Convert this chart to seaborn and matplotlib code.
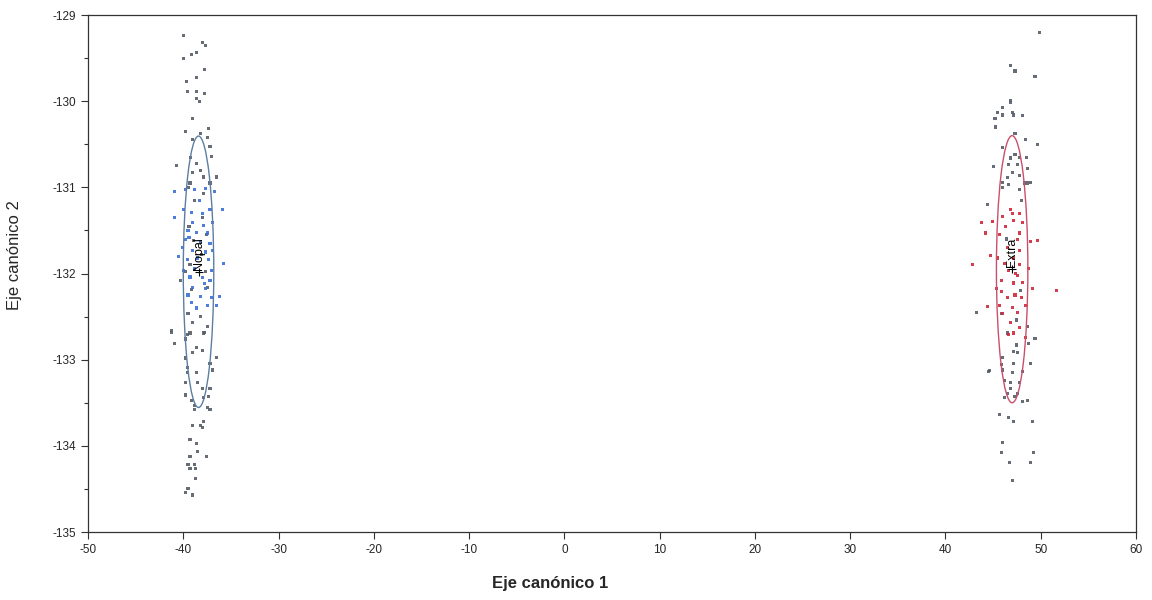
import numpy as np
import pandas as pd
import seaborn as sns
import matplotlib
matplotlib.use("Agg")
import matplotlib.pyplot as plt
from matplotlib.patches import Ellipse

# scores of the individual samples
nopal_gray_x = [-40.0, -38.0, -37.7, -38.6, -39.1, -40.0, -37.8, -39.7, -38.6, -39.6, -38.6, -37.8,
                -38.6, -38.3, -39.0, -39.8, -37.4, -38.2, -37.5, -39.0, -37.2, -37.0, -39.2, -40.7,
                -38.6, -38.2, -39.0, -37.9, -36.5, -39.3, -37.2, -39.5, -37.9, -38.8, -38.0, -39.4,
                -37.6, -38.9, -38.1, -39.3, -37.7, -40.3, -39.1, -37.5, -39.5, -38.2, -39.0, -37.5,
                -39.3, -37.9, -41.2, -39.8, -41.2, -39.6, -37.8, -40.9, -39.8, -38.6, -38.0, -39.0,
                -36.5, -39.8, -37.2, -39.6, -36.9, -39.6, -38.6, -39.8, -38.5, -38.0, -37.2, -39.8,
                -39.1, -37.9, -37.4, -38.8, -37.5, -37.2, -38.8, -37.9, -39.0, -38.2, -38.0, -39.3,
                -38.6, -38.5, -39.3, -37.6, -39.5, -38.8, -39.3, -38.7, -38.7, -39.8, -39.5, -39.0]
nopal_gray_y = [-129.24, -129.32, -129.35, -129.44, -129.46, -129.50, -129.63, -129.77, -129.73, -129.89,
                -129.89, -129.91, -129.97, -130.00, -130.20, -130.35, -130.32, -130.38, -130.42, -130.44,
                -130.53, -130.64, -130.65, -130.75, -130.72, -130.80, -130.83, -130.88, -130.88, -130.95,
                -130.95, -131.00, -131.07, -131.15, -131.35, -131.45, -131.55, -131.62, -131.78, -131.90,
                -131.98, -132.08, -132.19, -132.16, -132.46, -132.50, -132.57, -132.62, -132.69, -132.69,
                -132.66, -131.98, -132.68, -132.71, -132.68, -132.81, -132.76, -132.86, -132.89, -132.92,
                -132.97, -132.98, -133.04, -133.09, -133.12, -133.15, -133.15, -133.26, -133.27, -133.33,
                -133.33, -133.41, -133.47, -133.44, -133.43, -133.53, -133.55, -133.58, -133.58, -133.72,
                -133.76, -133.76, -133.79, -133.93, -133.97, -134.07, -134.12, -134.12, -134.22, -134.22,
                -134.26, -134.26, -134.38, -134.54, -134.50, -134.57]

nopal_x = [-40.9, -39.8, -38.8, -37.7, -36.7, -40.0, -39.1, -38.0, -37.2, -35.9, -39.0, -37.9,
           -36.9, -39.5, -38.6, -37.5, -39.8, -38.2, -37.2, -40.1, -39.0, -37.7, -36.9, -39.6,
           -38.5, -37.4, -35.8, -40.0, -38.8, -37.0, -39.3, -38.0, -37.2, -39.0, -37.7, -39.5,
           -38.2, -37.0, -39.1, -37.5, -36.5, -38.6, -40.9, -40.5, -36.2, -38.3, -39.4, -37.8]
nopal_y = [-131.05, -131.03, -131.03, -131.01, -131.05, -131.26, -131.29, -131.30, -131.26, -131.26,
           -131.41, -131.44, -131.41, -131.50, -131.52, -131.53, -131.61, -131.63, -131.65, -131.70,
           -131.73, -131.75, -131.73, -131.84, -131.82, -131.84, -131.88, -131.96, -131.94, -131.96,
           -132.04, -132.05, -132.08, -132.16, -132.17, -132.25, -132.27, -132.28, -132.34, -132.37,
           -132.37, -132.40, -131.35, -131.80, -132.27, -131.15, -131.58, -132.12]

extra_gray_x = [49.9, 46.8, 47.3, 49.4, 46.8, 46.8, 46.0, 45.5, 47.0, 45.2, 46.0, 47.1,
                48.1, 45.3, 47.3, 48.4, 49.7, 46.0, 47.3, 46.8, 47.8, 48.5, 45.0, 46.6,
                47.6, 48.6, 47.0, 47.8, 46.5, 46.0, 48.6, 46.6, 48.9, 44.4, 46.0, 47.8,
                48.3, 48.0, 45.9, 48.6, 47.5, 46.5, 43.3, 49.4, 48.7, 47.5, 47.1, 47.6,
                46.0, 45.9, 47.1, 48.9, 44.5, 46.0, 48.1, 47.0, 46.2, 47.8, 46.8, 46.8,
                46.5, 47.6, 46.2, 47.3, 48.1, 48.6, 45.7, 46.6, 47.1, 49.1, 46.0, 45.9,
                49.2, 46.7, 48.9, 47.0, 44.6, 46.4, 47.9]
extra_gray_y = [-129.20, -129.59, -129.65, -129.71, -129.99, -130.02, -130.07, -130.13, -130.13, -130.20,
                -130.16, -130.16, -130.17, -130.30, -130.37, -130.45, -130.50, -130.54, -130.62, -130.66,
                -130.65, -130.65, -130.76, -130.74, -130.74, -130.78, -130.83, -130.86, -130.89, -130.94,
                -130.95, -130.97, -130.94, -131.20, -131.00, -131.03, -130.95, -131.15, -132.46, -132.62,
                -132.54, -132.69, -132.45, -132.75, -132.81, -132.83, -132.91, -132.92, -132.97, -133.06,
                -133.04, -133.04, -133.14, -133.12, -133.14, -133.15, -133.24, -133.26, -133.26, -133.33,
                -133.39, -133.39, -133.44, -133.43, -133.49, -133.47, -133.64, -133.67, -133.72, -133.72,
                -133.96, -134.08, -134.08, -134.19, -134.19, -134.40, -133.13, -131.60, -132.20]

extra_x = [46.8, 47.0, 47.8, 46.0, 43.8, 44.9, 47.1, 48.1, 44.2, 45.7, 47.8, 47.6,
           48.9, 46.5, 47.8, 44.7, 45.5, 47.1, 42.8, 46.2, 47.8, 48.7, 46.6, 47.6,
           45.9, 48.1, 47.1, 45.4, 49.1, 51.7, 45.9, 47.3, 48.0, 46.5, 44.4, 45.7,
           47.0, 48.4, 46.0, 47.6, 46.8, 47.8, 47.1, 48.4, 46.6, 49.7, 46.3, 47.4]
extra_y = [-131.26, -131.30, -131.30, -131.34, -131.41, -131.40, -131.38, -131.41, -131.53, -131.55,
           -131.53, -131.61, -131.63, -131.70, -131.73, -131.79, -131.82, -131.82, -131.90, -131.88,
           -131.90, -131.94, -131.96, -132.02, -132.08, -132.10, -132.11, -132.17, -132.17, -132.20,
           -132.21, -132.25, -132.28, -132.28, -132.38, -132.37, -132.39, -132.37, -132.46, -132.45,
           -132.57, -132.63, -132.69, -132.74, -132.71, -131.62, -131.45, -132.00]

# group means and confidence ellipse sizes
groups = ["Nopal", "Extra"]
center_x = [-38.4, 47.0]
center_y = [-131.98, -131.95]
ellipse_w = [3.2, 3.3]
ellipse_h = [3.15, 3.1]
ellipse_colors = ["#5d7ea3", "#c9506b"]

df = pd.concat([
    pd.DataFrame({"x": nopal_gray_x, "y": nopal_gray_y, "grupo": "obs"}),
    pd.DataFrame({"x": extra_gray_x, "y": extra_gray_y, "grupo": "obs"}),
    pd.DataFrame({"x": nopal_x, "y": nopal_y, "grupo": "Nopal"}),
    pd.DataFrame({"x": extra_x, "y": extra_y, "grupo": "Extra"}),
], ignore_index=True)

sns.set_style("ticks")
plt.rcParams['font.family'] = ['Liberation Sans', 'DejaVu Sans']
plt.rcParams['axes.unicode_minus'] = False

fig = plt.figure(figsize=(11.52, 6), dpi=100)
ax = fig.add_axes([0.0764, 0.1133, 0.9097, 0.8617])

palette = {"obs": "#555d68", "Nopal": "#3b6fd6", "Extra": "#d0283a"}
sns.scatterplot(data=df, x="x", y="y", hue="grupo", palette=palette, marker="s",
                s=5, linewidth=0, alpha=0.9, legend=False, ax=ax, zorder=3)

for i, g in enumerate(groups):
    ax.add_patch(Ellipse((center_x[i], center_y[i]), ellipse_w[i], ellipse_h[i],
                         fill=False, edgecolor=ellipse_colors[i], linewidth=1.0, zorder=4))
    ax.plot(center_x[i], center_y[i], marker="+", color="black", markersize=6,
            markeredgewidth=0.8, zorder=5)
    ax.text(center_x[i], center_y[i] + 0.02, g, rotation=90, ha="center", va="bottom",
            fontsize=9, color="black", zorder=6)

ax.set_xlim(-50, 60)
ax.set_ylim(-135, -129)
ax.set_xticks(np.arange(-50, 61, 10))
ax.set_yticks(np.arange(-135, -128.9, 1))
ax.set_yticks(np.arange(-134.5, -129, 1), minor=True)
ax.tick_params(axis="both", which="major", direction="out", length=5, width=0.8,
               labelsize=8.5, color="#333333")
ax.tick_params(axis="y", which="minor", direction="out", length=3, width=0.8, color="#333333")
for sp in ax.spines.values():
    sp.set_visible(True)
    sp.set_linewidth(0.9)
    sp.set_color("#333333")

ax.set_xlabel("Eje canónico 1", fontsize=12, fontweight="bold")
ax.set_ylabel("Eje canónico 2", fontsize=12)
ax.xaxis.set_label_coords(0.441, -0.085)
ax.yaxis.set_label_coords(-0.063, 0.536)

fig.savefig("out.png", dpi=100, facecolor="white")
